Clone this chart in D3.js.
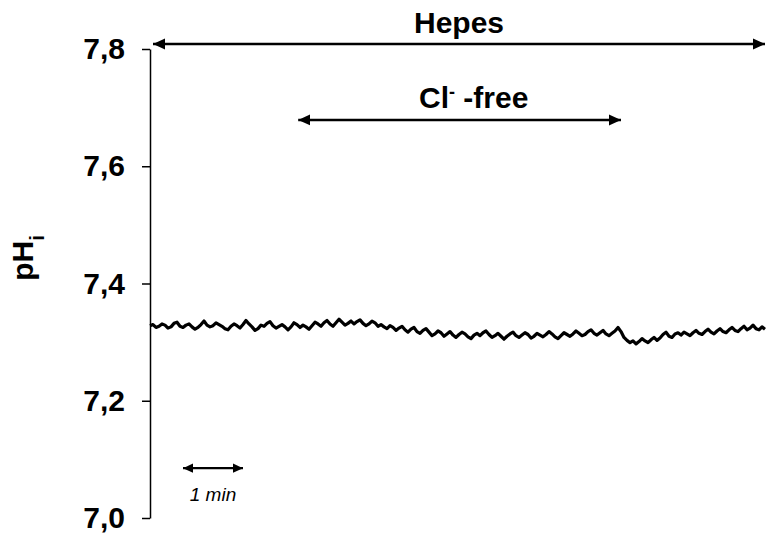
<!DOCTYPE html>
<html>
<head>
<meta charset="utf-8">
<script src="https://cdn.jsdelivr.net/npm/d3@7"></script>
<style>
  body { margin: 0; background: #fff; }
  text { font-family: "Liberation Sans", Arial, sans-serif; }
</style>
</head>
<body>
<script>
// y axis ticks (pH)
const yTicks = [7.0, 7.2, 7.4, 7.6, 7.8];

// pHi trace, one sample every 0.05 min
const sampleStep = 0.05;
const phValues = [
  7.328, 7.330, 7.325, 7.327, 7.331, 7.329, 7.324, 7.326, 7.332, 7.334,
  7.327, 7.325, 7.329, 7.331, 7.326, 7.322, 7.325, 7.330, 7.336, 7.329,
  7.326, 7.328, 7.333, 7.330, 7.327, 7.323, 7.321, 7.327, 7.331, 7.328,
  7.324, 7.330, 7.337, 7.331, 7.326, 7.320, 7.323, 7.329, 7.327, 7.332,
  7.335, 7.328, 7.324, 7.327, 7.330, 7.326, 7.321, 7.326, 7.333, 7.330,
  7.325, 7.329, 7.326, 7.322, 7.328, 7.334, 7.331, 7.327, 7.333, 7.337,
  7.331, 7.327, 7.333, 7.339, 7.334, 7.329, 7.332, 7.336, 7.331, 7.335,
  7.338, 7.332, 7.328, 7.331, 7.336, 7.333, 7.327, 7.330, 7.326, 7.323,
  7.328, 7.325, 7.320, 7.324, 7.327, 7.321, 7.317, 7.322, 7.325, 7.318,
  7.315, 7.320, 7.323, 7.317, 7.311, 7.314, 7.319, 7.316, 7.310, 7.314,
  7.318, 7.312, 7.308, 7.313, 7.317, 7.314, 7.309, 7.306, 7.312, 7.315,
  7.311, 7.316, 7.319, 7.313, 7.308, 7.311, 7.315, 7.310, 7.305, 7.310,
  7.314, 7.317, 7.311, 7.308, 7.312, 7.316, 7.313, 7.307, 7.310, 7.315,
  7.312, 7.309, 7.313, 7.318, 7.314, 7.309, 7.306, 7.311, 7.316, 7.313,
  7.310, 7.314, 7.319, 7.315, 7.311, 7.313, 7.318, 7.321, 7.315, 7.312,
  7.316, 7.320, 7.314, 7.311, 7.315, 7.319, 7.325, 7.318, 7.308, 7.303,
  7.299, 7.302, 7.297, 7.301, 7.306, 7.302, 7.299, 7.304, 7.308, 7.303,
  7.307, 7.313, 7.317, 7.310, 7.308, 7.314, 7.316, 7.312, 7.317, 7.314,
  7.311, 7.316, 7.320, 7.315, 7.313, 7.318, 7.322, 7.317, 7.314, 7.319,
  7.323, 7.318, 7.316, 7.321, 7.325, 7.320, 7.318, 7.323, 7.327, 7.321,
  7.324, 7.329, 7.323, 7.321, 7.326, 7.322
];

// solution periods (min)
const hepesPeriod = [0.05, 10.25];
const clFreePeriod = [2.47, 7.85];
const scaleBarMin = [0.55, 1.55];

const width = 767, height = 541;

const svg = d3.select("body").append("svg")
    .attr("width", width)
    .attr("height", height);

const x = d3.scaleLinear().domain([0, 10.3]).range([150, 768]);
const y = d3.scaleLinear().domain([7.0, 7.8]).range([518, 49]);

const locale = d3.formatLocale({decimal: ",", thousands: ".", grouping: [3], currency: ["", ""]});
const fmt = locale.format(".1f");

// arrow heads
const defs = svg.append("defs");
function head(id, size) {
  defs.append("marker")
      .attr("id", id)
      .attr("markerUnits", "userSpaceOnUse")
      .attr("viewBox", "0 0 12 12")
      .attr("refX", 12).attr("refY", 6)
      .attr("markerWidth", size).attr("markerHeight", size)
      .attr("orient", "auto-start-reverse")
      .append("path")
      .attr("d", "M0,0.5 L12,6 L0,11.5 Z")
      .attr("fill", "#000");
}
head("arr", 12);
head("arrSmall", 10);

// y axis
const yAxis = svg.append("g")
    .attr("transform", "translate(150,0)")
    .call(d3.axisLeft(y).tickValues(yTicks).tickFormat(fmt).tickSize(8).tickSizeOuter(0).tickPadding(17));
yAxis.select(".domain").attr("stroke", "#000").attr("stroke-width", 1.5);
yAxis.selectAll(".tick line").attr("stroke", "#000").attr("stroke-width", 1.5);
yAxis.selectAll(".tick text")
    .attr("fill", "#000")
    .style("font-family", '"Liberation Sans", Arial, sans-serif')
    .style("font-size", "30px")
    .style("font-weight", "bold");

// y label
const yl = svg.append("text")
    .attr("transform", "translate(33,258) rotate(-90)")
    .attr("text-anchor", "middle")
    .style("font-size", "30px")
    .style("font-weight", "bold");
yl.append("tspan").text("pH");
yl.append("tspan").attr("baseline-shift", "sub").style("font-size", "20px").text("i");

// trace
const line = d3.line()
    .x((d, i) => x(i * sampleStep))
    .y(d => y(d));
svg.append("path")
    .datum(phValues)
    .attr("d", line)
    .attr("fill", "none")
    .attr("stroke", "#000")
    .attr("stroke-width", 3.2)
    .attr("stroke-linejoin", "round");

// Hepes arrow
const hepesY = y(7.8085);
svg.append("line")
    .attr("x1", x(hepesPeriod[0])).attr("x2", x(hepesPeriod[1]))
    .attr("y1", hepesY).attr("y2", hepesY)
    .attr("stroke", "#000").attr("stroke-width", 2.6)
    .attr("marker-start", "url(#arr)").attr("marker-end", "url(#arr)");
svg.append("text")
    .attr("x", x((hepesPeriod[0] + hepesPeriod[1]) / 2))
    .attr("y", hepesY - 11)
    .attr("text-anchor", "middle")
    .style("font-size", "30px").style("font-weight", "bold")
    .text("Hepes");

// Cl- free arrow
const clY = y(7.679);
svg.append("line")
    .attr("x1", x(clFreePeriod[0])).attr("x2", x(clFreePeriod[1]))
    .attr("y1", clY).attr("y2", clY)
    .attr("stroke", "#000").attr("stroke-width", 2.6)
    .attr("marker-start", "url(#arr)").attr("marker-end", "url(#arr)");
const clt = svg.append("text")
    .attr("x", 419)
    .attr("y", clY - 12)
    .style("font-size", "30px").style("font-weight", "bold");
clt.append("tspan").text("Cl");
clt.append("tspan").attr("baseline-shift", "super").style("font-size", "18px").text("-");
clt.append("tspan").text(" -free");

// 1 min scale bar
const sbY = y(7.085);
svg.append("line")
    .attr("x1", x(scaleBarMin[0])).attr("x2", x(scaleBarMin[1]))
    .attr("y1", sbY).attr("y2", sbY)
    .attr("stroke", "#000").attr("stroke-width", 2.2)
    .attr("marker-start", "url(#arrSmall)").attr("marker-end", "url(#arrSmall)");
svg.append("text")
    .attr("x", x((scaleBarMin[0] + scaleBarMin[1]) / 2))
    .attr("y", sbY + 33)
    .attr("text-anchor", "middle")
    .style("font-size", "19px").style("font-style", "italic")
    .text("1 min");
</script>
</body>
</html>
